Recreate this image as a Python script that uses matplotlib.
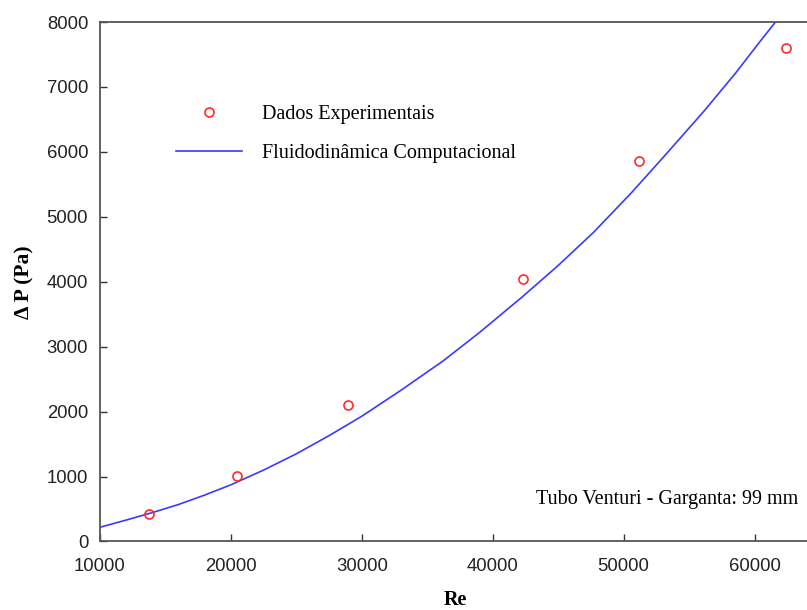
import matplotlib
matplotlib.use('Agg')
import matplotlib.pyplot as plt

# experimental points
re_exp = [13740, 20490, 28970, 42320, 51200, 62430]
dp_exp = [430, 1008, 2105, 4046, 5865, 7601]

# CFD curve
re_cfd = [10000, 12000, 14000, 16000, 18000, 20000, 22500, 25000, 27500, 30000,
          33000, 36200, 39000, 42300, 45000, 47700, 50600, 53000, 56100, 58500,
          60500, 61700, 62200]
dp_cfd = [219, 330, 445, 570, 715, 873, 1100, 1350, 1630, 1929,
          2330, 2779, 3220, 3774, 4250, 4760, 5371, 5910, 6618, 7200,
          7720, 8025, 8160]

xticks = [10000, 20000, 30000, 40000, 50000, 60000]
yticks = [0, 1000, 2000, 3000, 4000, 5000, 6000, 7000, 8000]

fig = plt.figure(figsize=(8.07, 6.10), dpi=100)
ax = fig.add_axes([0.1239, 0.1123, 0.8761, 0.8516])

ax.plot(re_cfd, dp_cfd, color='#3a3aff', lw=1.2, label='Fluidodinâmica Computacional')
ax.plot(re_exp, dp_exp, 'o', mfc='none', mec='#ff2a2a', mew=1.2, ms=6.5,
        label='Dados Experimentais')

ax.set_xlim(10000, 64010)
ax.set_ylim(0, 8000)
ax.set_xticks(xticks)
ax.set_yticks(yticks)
ax.tick_params(direction='in', length=5, width=1, color='#333333',
               labelsize=13.3, labelfontfamily='Liberation Sans', labelcolor='#222222')
ax.tick_params(axis='x', pad=12)
ax.tick_params(axis='y', pad=8.5)
ax.spines['right'].set_visible(False)
for s in ['left', 'bottom', 'top']:
    ax.spines[s].set_color('#555555')
    ax.spines[s].set_linewidth(1.3)

ax.set_xlabel('Re', family='Liberation Serif', fontweight='bold', fontsize=14.5, va='center')
ax.set_ylabel('\u0394 P (Pa)', family='Liberation Serif', fontweight='bold', fontsize=15.5, va='center')
ax.xaxis.set_label_coords(0.502, -0.1126)
ax.yaxis.set_label_coords(-0.107, 0.4995)

h, l = ax.get_legend_handles_labels()
ax.legend(h[::-1], l[::-1], loc='upper left', bbox_to_anchor=(0.1075, 0.84), frameon=False,
          prop={'family': 'Liberation Serif', 'size': 14.5}, handlelength=3.3,
          handletextpad=0.95, labelspacing=1.0, borderpad=0, borderaxespad=0)

ax.text(0.987, 0.08, 'Tubo Venturi - Garganta: 99 mm', transform=ax.transAxes,
        ha='right', va='center', family='Liberation Serif', fontsize=14.5)

fig.savefig('out.png', dpi=100)
